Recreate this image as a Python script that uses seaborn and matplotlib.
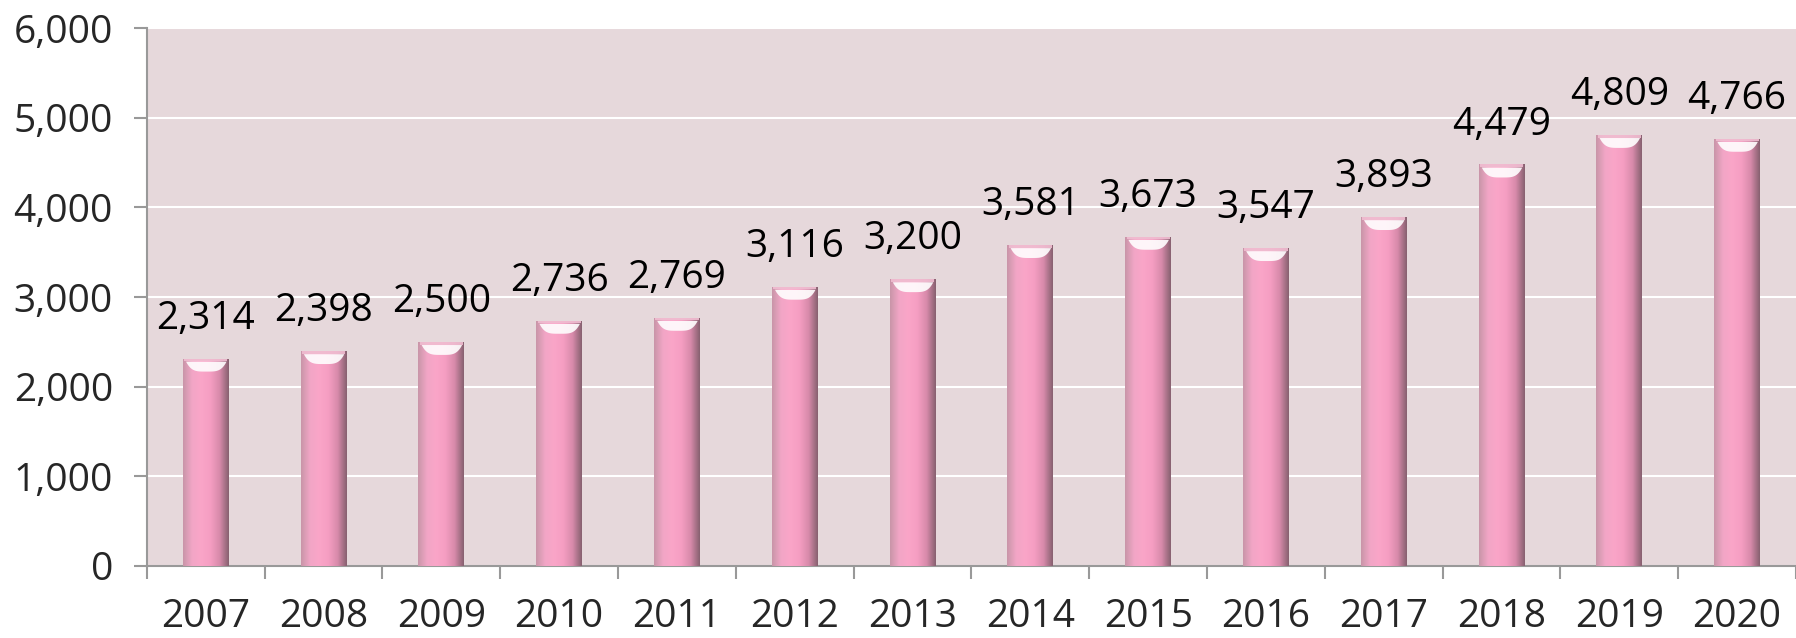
import numpy as np
import pandas as pd
import seaborn as sns
import matplotlib.pyplot as plt
from matplotlib.colors import LinearSegmentedColormap
from matplotlib.ticker import FuncFormatter, FixedLocator

years = ['2007', '2008', '2009', '2010', '2011', '2012', '2013',
         '2014', '2015', '2016', '2017', '2018', '2019', '2020']
values = [2314, 2398, 2500, 2736, 2769, 3116, 3200,
          3581, 3673, 3547, 3893, 4479, 4809, 4766]

df = pd.DataFrame({'year': years, 'value': values})

sns.set_style("white")
plt.rcParams['font.family'] = ['Open Sans', 'DejaVu Sans']

fig = plt.figure(figsize=(17.96, 6.38), dpi=100)
ax = fig.add_axes([0.0818, 0.1129, 0.9182, 0.8431])
ax.set_facecolor('#E6D8DB')

sns.barplot(data=df, x='year', y='value', color='#F7A3C6', width=0.39,
            edgecolor='none', ax=ax, zorder=3)

# cylinder-ish shading on each bar
shade = LinearSegmentedColormap.from_list(
    'cyl', ['#C895A8', '#F2A6C6', '#FAA5C8', '#F59EC2', '#D78AAA', '#86606F'])
grad = np.linspace(0, 1, 256).reshape(1, -1)
for p in ax.patches:
    x0, y0 = p.get_x(), p.get_y()
    w, h = p.get_width(), p.get_height()
    im = ax.imshow(grad, cmap=shade, aspect='auto', extent=[x0, x0 + w, y0, y0 + h],
                   zorder=4, interpolation='bicubic')
    im.set_clip_path(p)
    # light rim and white crescent at the top of the bar
    top = y0 + h
    ax.fill_between([x0 + w * 0.03, x0 + w * 0.97], top - 30, top,
                    color='#F0BDD1', alpha=0.9, zorder=5, linewidth=0)
    t = np.linspace(0, 1, 60)
    xs = x0 + w * (0.06 + 0.88 * t)
    dip = np.clip(1 - (2 * t - 1) ** 4, 0, 1)
    ax.fill_between(xs, top - 30 - 110 * dip, top - 30, color='white',
                    alpha=0.9, zorder=5, linewidth=0)

ax.bar_label(ax.containers[0], labels=[f'{v:,}' for v in values],
             padding=15, fontsize=28, color='black')

ax.set_ylim(0, 6000)
ax.set_xlim(-0.5, len(years) - 0.5)
ax.set_yticks(range(0, 6001, 1000))
ax.yaxis.set_major_formatter(FuncFormatter(lambda v, _: f'{int(v):,}'))
ax.grid(axis='y', color='white', linewidth=1.5, zorder=1)
ax.set_axisbelow(True)

ax.set_xlabel('')
ax.set_ylabel('')
for s in ['top', 'right']:
    ax.spines[s].set_visible(False)
for s in ['left', 'bottom']:
    ax.spines[s].set_color('#999999')
    ax.spines[s].set_linewidth(1.5)

ax.tick_params(axis='y', which='major', length=9.5, width=1.5, color='#999999',
               labelsize=28, pad=15, left=True)
ax.tick_params(axis='x', which='major', length=0, labelsize=28, pad=23)
ax.xaxis.set_minor_locator(FixedLocator(np.arange(-0.5, len(years), 1.0)))
ax.tick_params(axis='x', which='minor', length=9.5, width=1.5, color='#999999',
               bottom=True, direction='out')

fig.savefig('out.png', dpi=100)
